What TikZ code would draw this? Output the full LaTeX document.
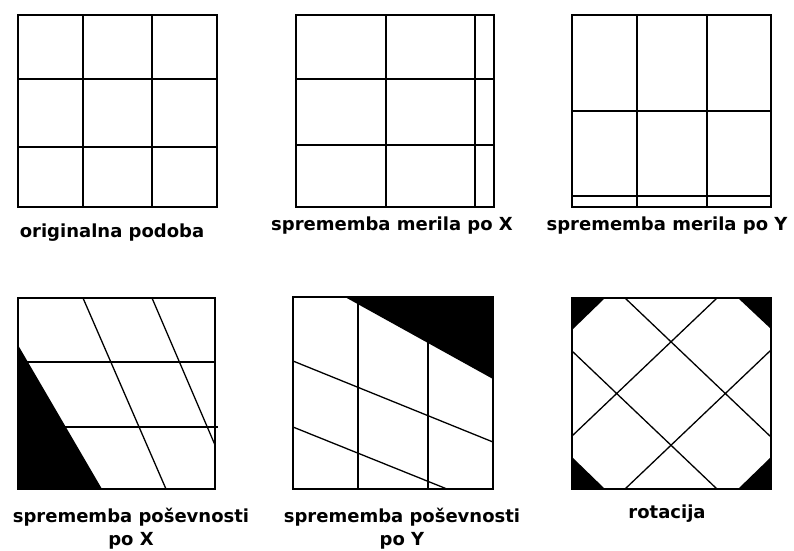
\documentclass[tikz,border=0pt]{standalone}
\usepackage{fontspec}
\setmainfont{DejaVu Sans}
\begin{document}
\begin{tikzpicture}[x=1pt,y=-1pt,
  frame/.style={line width=1.9pt},
  gl/.style={line width=1.7pt},
  sl/.style={line width=1.3pt},
  lab/.style={font=\fontsize{18}{23}\selectfont\bfseries, align=center, inner sep=0pt, anchor=base}]
\useasboundingbox[fill=white] (0,0) rectangle (794,550);
% Panel 1
\draw[gl] (83,15) -- (83,207) (152,15) -- (152,207) (18,79) -- (217,79) (18,147) -- (217,147);
\draw[frame] (18,15) rectangle (217,207);
\node[lab] (l1) at (112,237) {originalna podoba};
% Panel 2
\draw[gl] (386,15) -- (386,207) (475,15) -- (475,207) (296,79) -- (494,79) (296,145) -- (494,145);
\draw[frame] (296,15) rectangle (494,207);
\node[lab] (l2) at (392,230) {sprememba merila po X};
% Panel 3
\draw[gl] (637,15) -- (637,207) (707,15) -- (707,207) (572,111) -- (771,111) (572,196) -- (771,196);
\draw[frame] (572,15) rectangle (771,207);
\node[lab] (l3) at (667,230) {sprememba merila po Y};
% Panel 4
\fill (18,345) -- (18,489) -- (102,489) -- cycle;
\draw[gl] (18,362) -- (215,362) (18,427) -- (218,427);
\draw[sl] (83,298) -- (166,489) (152,298) -- (215,445);
\draw[frame] (18,298) rectangle (215,489);
\node[lab] (l4) at (131,545) {sprememba poševnosti\\po X};
% Panel 5
\fill (345,297) -- (493,297) -- (493,379) -- cycle;
\draw[gl] (358,297) -- (358,489) (428,297) -- (428,489);
\draw[sl] (293,361) -- (493,442) (293,427) -- (447,489);
\draw[frame] (293,297) rectangle (493,489);
\node[lab] (l5) at (402,545) {sprememba poševnosti\\po Y};
% Panel 6
\fill (572,298) -- (605,298) -- (572,330) -- cycle;
\fill (771,298) -- (738,298) -- (771,329) -- cycle;
\fill (572,489) -- (605,489) -- (572,457) -- cycle;
\fill (771,489) -- (738,489) -- (771,457) -- cycle;
\draw[sl] (625,298) -- (771,437) (572,351) -- (717,489) (717,298) -- (572,436) (771,350) -- (625,489);
\draw[frame] (572,298) rectangle (771,489);
\node[lab] (l6) at (667,518) {rotacija};
\end{tikzpicture}
\end{document}
